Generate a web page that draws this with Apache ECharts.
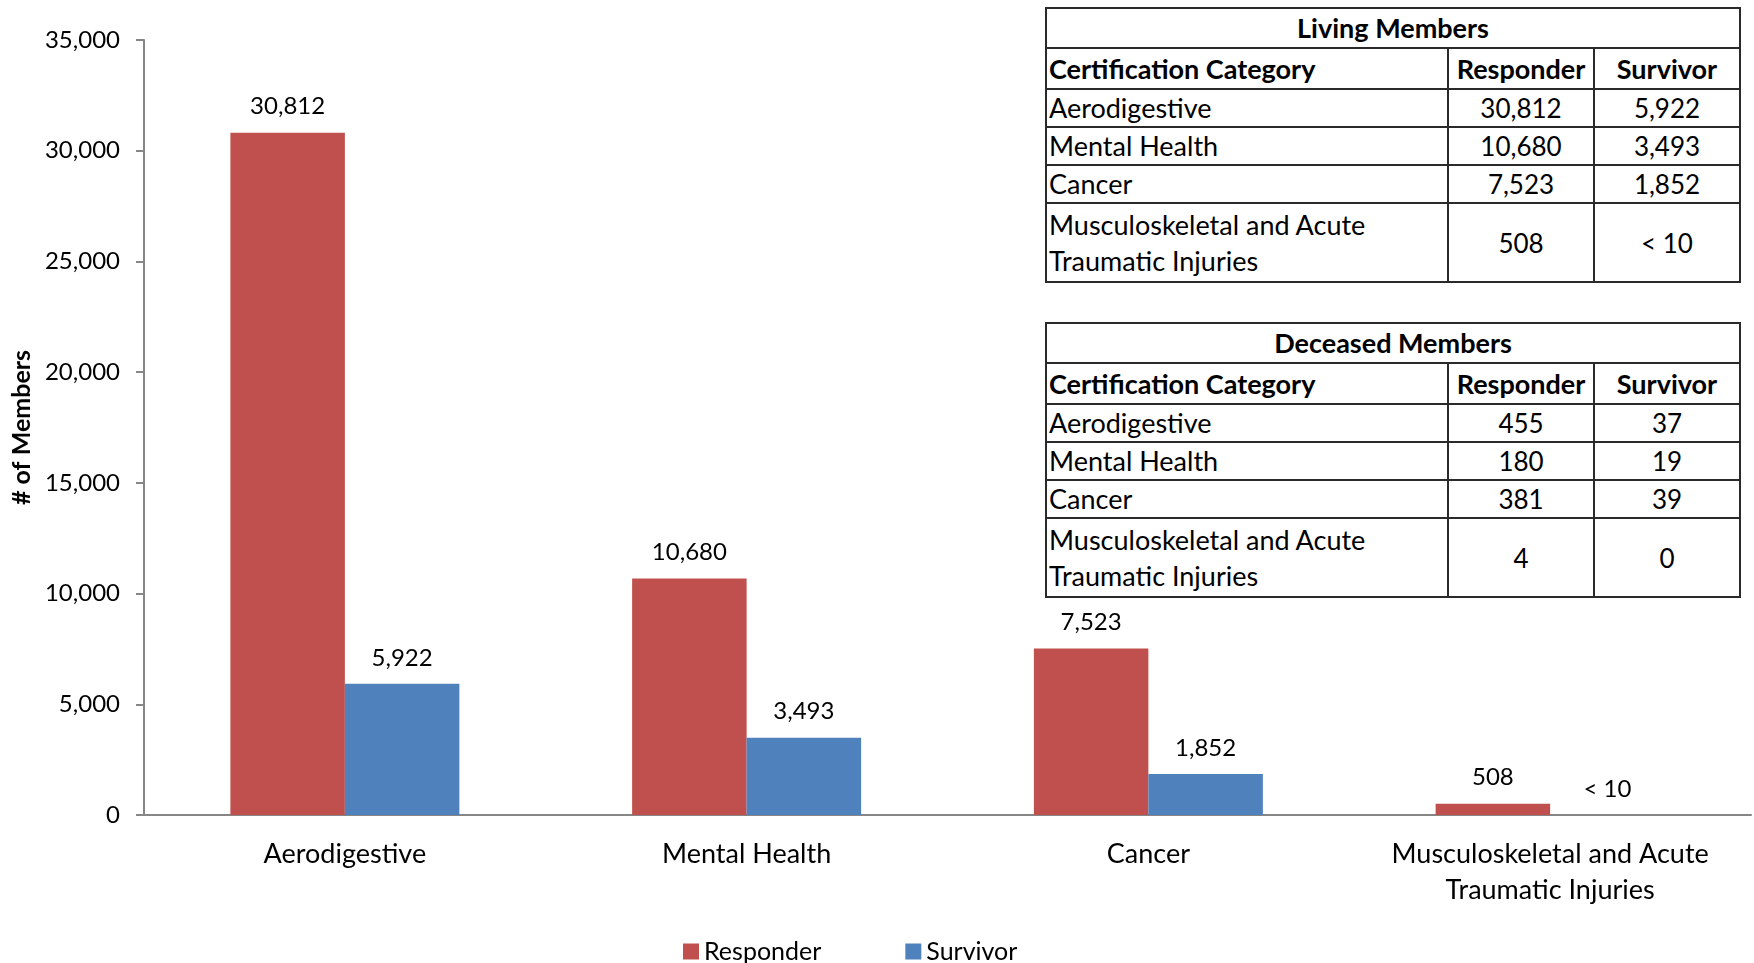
<!DOCTYPE html>
<html>
<head>
<meta charset="utf-8">
<script src="https://cdn.jsdelivr.net/npm/echarts@6/dist/echarts.min.js"></script>
<style>
    html, body { margin: 0; padding: 0; background: #fff; }
    #chart { position: absolute; left: 0; top: 0; width: 1754px; height: 963px; }
    .tbl {
        position: absolute;
        left: 1045px;
        width: 694px;
        border-collapse: collapse;
        table-layout: fixed;
        background: #fff;
        font-family: Lato, sans-serif;
        font-size: 27px;
        color: #000;
    }
    .tbl td { border: 2px solid #2a2a2a; padding: 0 2px; line-height: 34px; }
    .tbl .title td { text-align: center; font-weight: bold; height: 38px; }
    .tbl .head td { font-weight: bold; height: 39px; }
    .tbl .row td { height: 36px; }
    .tbl .row.tall td { height: 77px; line-height: 36px; }
    .tbl .c { text-align: center; font-size: 26px; }
    .tbl .head .c { font-size: 27px; }
    #living { top: 7px; }
    #deceased { top: 322px; }
</style>
</head>
<body>
<div id="chart"></div>
<table class="tbl" id="living"></table>
<table class="tbl" id="deceased"></table>
<script>
    // chart data
    var categories = ['Aerodigestive', 'Mental Health', 'Cancer', 'Musculoskeletal and Acute\nTraumatic Injuries'];
    var responder = [30812, 10680, 7523, 508];
    var survivor = [5922, 3493, 1852, 5];   // last one is reported only as "< 10"
    var responderLabels = ['30,812', '10,680', '7,523', '508'];
    var survivorLabels = ['5,922', '3,493', '1,852', '< 10'];
    var yTicks = [0, 5000, 10000, 15000, 20000, 25000, 30000, 35000];

    // table data
    var tableHeader = ['Certification Category', 'Responder', 'Survivor'];
    var livingResponder = ['30,812', '10,680', '7,523', '508'];
    var livingSurvivor = ['5,922', '3,493', '1,852', '< 10'];
    var deceasedResponder = ['455', '180', '381', '4'];
    var deceasedSurvivor = ['37', '19', '39', '0'];

    var fontFamily = 'Lato, sans-serif';

    function fillTable(id, title, resp, surv) {
        var html = '<colgroup><col style="width:402px"><col style="width:146px"><col style="width:146px"></colgroup>';
        html += '<tr class="title"><td colspan="3">' + title + '</td></tr>';
        html += '<tr class="head"><td>' + tableHeader[0] + '</td><td class="c">' + tableHeader[1] +
            '</td><td class="c">' + tableHeader[2] + '</td></tr>';
        for (var i = 0; i < categories.length; i++) {
            var twoLines = categories[i].indexOf('\n') >= 0;
            var name = categories[i].replace('\n', '<br>');
            html += '<tr class="row' + (twoLines ? ' tall' : '') + '"><td>' + name + '</td><td class="c">' +
                resp[i].replace('<', '&lt;') + '</td><td class="c">' + surv[i].replace('<', '&lt;') + '</td></tr>';
        }
        document.getElementById(id).innerHTML = html;
    }
    fillTable('living', 'Living Members', livingResponder, livingSurvivor);
    fillTable('deceased', 'Deceased Members', deceasedResponder, deceasedSurvivor);

    var myChart = echarts.init(document.getElementById('chart'));
    myChart.setOption({
        animation: false,
        textStyle: { fontFamily: fontFamily },
        color: ['#C0504D', '#4F81BD'],
        grid: { left: 144, right: 3, top: 40, bottom: 148 },
        legend: {
            data: ['Responder', 'Survivor'],
            left: 678,
            top: 934,
            icon: 'rect',
            itemWidth: 16,
            itemHeight: 16,
            itemGap: 84,
            textStyle: { fontSize: 25, color: '#000', fontFamily: fontFamily }
        },
        xAxis: {
            type: 'category',
            data: categories,
            axisLine: { lineStyle: { color: '#868686', width: 2 } },
            axisTick: { show: false },
            axisLabel: { interval: 0, fontSize: 27, color: '#000', margin: 21, lineHeight: 36, fontFamily: fontFamily }
        },
        yAxis: {
            type: 'value',
            min: 0,
            max: yTicks[yTicks.length - 1],
            interval: 5000,
            name: '# of Members',
            nameLocation: 'middle',
            nameGap: 110,
            nameTextStyle: { fontSize: 25, fontWeight: 'bold', color: '#000', fontFamily: fontFamily },
            axisLine: { show: true, lineStyle: { color: '#868686', width: 2 } },
            axisTick: { show: true, length: 8, lineStyle: { color: '#868686', width: 2 } },
            splitLine: { show: false },
            axisLabel: {
                fontSize: 24, color: '#000', margin: 24, fontFamily: fontFamily,
                formatter: function (v) { return v.toLocaleString('en-US'); }
            }
        },
        series: [
            {
                name: 'Responder',
                type: 'bar',
                data: responder,
                barGap: '0%',
                barCategoryGap: '43%',
                label: {
                    show: true, position: 'top', distance: 14, fontSize: 24, color: '#000',
                    formatter: function (p) { return responderLabels[p.dataIndex]; }
                }
            },
            {
                name: 'Survivor',
                type: 'bar',
                data: survivor,
                barGap: '0%',
                barCategoryGap: '43%',
                label: {
                    show: true, position: 'top', distance: 14, fontSize: 24, color: '#000',
                    formatter: function (p) { return survivorLabels[p.dataIndex]; }
                }
            }
        ]
    });
</script>
</body>
</html>
